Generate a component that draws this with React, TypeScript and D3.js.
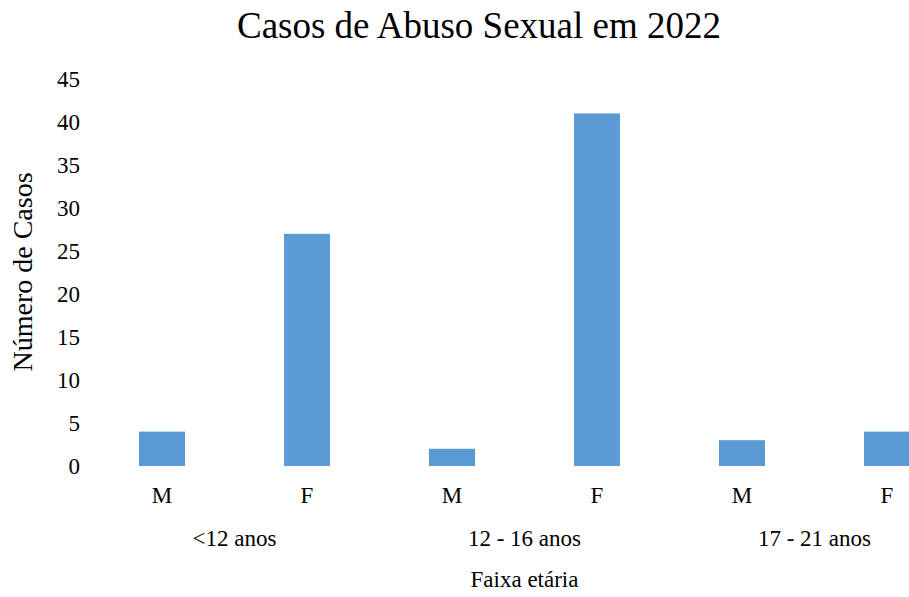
import { useEffect, useRef } from "react";
import * as d3 from "d3";

const groups = ["<12 anos", "12 - 16 anos", "17 - 21 anos"];
const sexes = ["M", "F"];
const casos = [4, 27, 2, 41, 3, 4];
const yTicks = [0, 5, 10, 15, 20, 25, 30, 35, 40, 45];

const FONT = "'Liberation Serif', 'Times New Roman', serif";

export default function App() {
  const ref = useRef<SVGSVGElement>(null);

  useEffect(() => {
    const svg = d3.select(ref.current);
    if (!svg.node()) return;
    svg.selectAll("*").remove();

    const width = 909;
    const height = 597;

    const rows = groups.flatMap((g, gi) =>
      sexes.map((s, si) => ({ id: `${gi}-${s}`, group: g, sex: s, value: casos[gi * sexes.length + si] })),
    );

    const x = d3
      .scaleBand()
      .domain(rows.map((r) => r.id))
      .range([89.5, 959.5])
      .paddingInner(0.683)
      .paddingOuter(0.3415);

    const y = d3.scaleLinear().domain([0, 45]).range([466, 79]);

    svg.attr("viewBox", `0 0 ${width} ${height}`).attr("width", width).attr("height", height);

    svg
      .append("text")
      .attr("x", 479)
      .attr("y", 38)
      .attr("text-anchor", "middle")
      .attr("font-family", FONT)
      .attr("font-size", 37)
      .attr("fill", "#000")
      .text("Casos de Abuso Sexual em 2022");

    // y tick labels
    svg
      .append("g")
      .selectAll("text")
      .data(yTicks)
      .join("text")
      .attr("x", 80)
      .attr("y", (d) => y(d))
      .attr("dy", "0.35em")
      .attr("text-anchor", "end")
      .attr("font-family", FONT)
      .attr("font-size", 23)
      .attr("fill", "#000")
      .text((d) => d);

    svg
      .append("text")
      .attr("transform", `translate(32,272) rotate(-90)`)
      .attr("text-anchor", "middle")
      .attr("font-family", FONT)
      .attr("font-size", 28)
      .attr("fill", "#000")
      .text("Número de Casos");

    svg
      .append("g")
      .selectAll("rect")
      .data(rows)
      .join("rect")
      .attr("x", (d) => x(d.id)!)
      .attr("y", (d) => y(d.value))
      .attr("width", x.bandwidth())
      .attr("height", (d) => y(0) - y(d.value))
      .attr("fill", "#5B9BD5");

    // sex labels
    svg
      .append("g")
      .selectAll("text")
      .data(rows)
      .join("text")
      .attr("x", (d) => x(d.id)! + x.bandwidth() / 2)
      .attr("y", 503)
      .attr("text-anchor", "middle")
      .attr("font-family", FONT)
      .attr("font-size", 23)
      .attr("fill", "#000")
      .text((d) => d.sex);

    // group labels
    svg
      .append("g")
      .selectAll("text")
      .data(groups)
      .join("text")
      .attr("x", (_, gi) => {
        const a = x(`${gi}-${sexes[0]}`)! + x.bandwidth() / 2;
        const b = x(`${gi}-${sexes[sexes.length - 1]}`)! + x.bandwidth() / 2;
        return (a + b) / 2;
      })
      .attr("y", 546)
      .attr("text-anchor", "middle")
      .attr("font-family", FONT)
      .attr("font-size", 23)
      .attr("fill", "#000")
      .text((d) => d);

    const [r0, r1] = x.range();
    svg
      .append("text")
      .attr("x", (r0 + r1) / 2)
      .attr("y", 587)
      .attr("text-anchor", "middle")
      .attr("font-family", FONT)
      .attr("font-size", 23)
      .attr("fill", "#000")
      .text("Faixa etária");
  }, []);

  return (
    <div style={{ position: "absolute", left: 0, top: 0, width: 909, height: 597, overflow: "hidden", background: "#fff" }}>
      <svg ref={ref} style={{ display: "block" }} />
    </div>
  );
}
